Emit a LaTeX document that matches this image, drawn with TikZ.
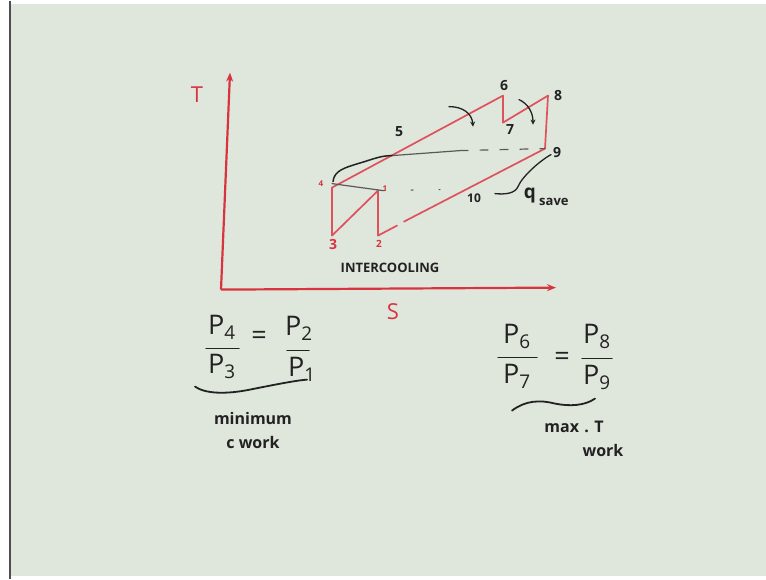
\documentclass[tikz,border=0pt]{standalone}
\usepackage{fontspec}
\setmainfont{Open Sans}
\usetikzlibrary{arrows.meta}
\definecolor{board}{HTML}{DFE6DC}
\definecolor{marker}{HTML}{D8343F}
\definecolor{pen}{HTML}{222222}
\begin{document}
\begin{tikzpicture}[x=1pt,y=-1pt,
  cyc/.style={draw=marker!85, line width=1.7pt, line join=round, line cap=round},
  axis/.style={draw=marker, line width=2.2pt, -{Stealth[length=9pt,width=7pt]}},
  ink/.style={draw=pen, line width=1.5pt, line cap=round},
  faint/.style={draw=pen!75, line width=1.2pt, line cap=round},
  axlbl/.style={text=marker, font=\fontsize{22}{22}\selectfont, inner sep=0pt},
  redlbl/.style={text=marker, font=\fontsize{14}{14}\selectfont\bfseries, inner sep=0pt},
  blklbl/.style={text=pen, font=\fontsize{14}{14}\selectfont\bfseries, inner sep=0pt},
  eqlbl/.style={text=pen, font=\fontsize{27}{27}\selectfont, inner sep=0pt},
  note/.style={text=pen, font=\fontsize{16}{16}\selectfont\bfseries, inner sep=0pt},
  ]
% board
\fill[white] (0,0) rectangle (766,578);
\fill[board] (10,3) rectangle (766,575);
\draw[pen!80, line width=1.2pt] (10,0) -- (10,578);
\useasboundingbox (0,0) rectangle (766,578);

% axes
\coordinate (O) at (221,289);
\coordinate (Ttop) at (230,72);
\coordinate (Send) at (556,287);
\draw[axis] (O) -- (Ttop);
\draw[axis] (O) -- (Send);
\node[axlbl] (Tl) at (197,94) {T};
\node[axlbl] (Sl) at (393,311) {S};

% cycle points
\coordinate (p3) at (332,235);
\coordinate (p4) at (332,187);
\coordinate (p1) at (378,190);
\coordinate (p2) at (378,235);
\coordinate (gA) at (397,225);
\coordinate (gB) at (404,221);
\coordinate (p9) at (545,148);
\coordinate (p8) at (548,95);
\coordinate (p7) at (503,122);
\coordinate (p6) at (503,95);
\coordinate (p5) at (392,155);

\draw[cyc] (p4) -- (p3) -- (p1) -- (p2) -- (gA);
\draw[cyc] (gB) -- (p9) -- (p8) -- (p7) -- (p6) -- (p4);

% dashed horizontals
\coordinate (h1) at (460,150);
\draw[faint] (p5) -- (h1);
\draw[faint, dash pattern=on 8pt off 12pt] (h1) -- (p9);
\coordinate (l1) at (383,190);
\coordinate (l2) at (440,189);
\draw[faint] ([yshift=4pt]p4) -- (l1);
\draw[faint, dash pattern=on 2pt off 26pt] (l1) -- (l2);

% wavy brace 4-5
\coordinate (w0) at (333,181);
\draw[ink] (w0) .. controls (334,170) and (345,167) .. (358,163)
  .. controls (372,159) and (380,155) .. (p5);

% curved arrows
\coordinate (a1) at (449,106);
\coordinate (a2) at (473,126);
\draw[ink, line width=1.3pt, -{Stealth[length=5pt,width=5pt]}] (a1) .. controls (463,106) and (472,113) .. (a2);
\coordinate (b1) at (519,99);
\coordinate (b2) at (533,124);
\draw[ink, line width=1.3pt, -{Stealth[length=5pt,width=5pt]}] (b1) .. controls (528,103) and (533,112) .. (b2);

% q_save pointer
\coordinate (q0) at (495,193);
\coordinate (q1) at (551,154);
\draw[ink, line width=1.3pt] (q0) .. controls (505,194) and (515,193) .. (518,186)
  .. controls (522,176) and (540,160) .. (q1);

% point labels
\node[redlbl] (L3) at (333,244) {3};
\node[redlbl, font=\fontsize{8}{8}\selectfont\bfseries] (L4) at (321,183) {4};
\node[redlbl, font=\fontsize{8}{8}\selectfont\bfseries] (L1) at (385,188) {1};
\node[redlbl, font=\fontsize{10}{10}\selectfont\bfseries] (L2) at (379,243) {2};
\node[blklbl] (L5) at (399,131) {5};
\node[blklbl] (L6) at (504,85) {6};
\node[blklbl] (L7) at (510,129) {7};
\node[blklbl] (L8) at (558,95) {8};
\node[blklbl] (L9) at (557,152) {9};
\node[blklbl, font=\fontsize{12}{12}\selectfont\bfseries] (L10) at (474,198) {10};
\node[text=pen, font=\fontsize{19}{19}\selectfont\bfseries, inner sep=0pt] (qs) at (530,195) {q};
\node[text=pen, font=\fontsize{13}{13}\selectfont\bfseries, inner sep=0pt, anchor=west] (sv) at (539,201) {save};
\node[note, font=\fontsize{13}{13}\selectfont\bfseries] (ic) at (390,267) {INTERCOOLING};

% left equation
\node[eqlbl] (n1) at (222,327) {P\textsubscript{4}};
\coordinate (f1a) at (206,348);
\coordinate (f1b) at (239,348);
\draw[ink] (f1a) -- (f1b);
\node[eqlbl] (d1) at (222,366) {P\textsubscript{3}};
\node[eqlbl] (e1) at (259,337) {=};
\node[eqlbl] (n2) at (299,328) {P\textsubscript{2}};
\coordinate (f2a) at (287,350);
\coordinate (f2b) at (309,350);
\draw[ink] (f2a) -- (f2b);
\node[eqlbl] (d2) at (302,369) {P\textsubscript{1}};
\coordinate (u1) at (195,386);
\coordinate (u2) at (307,379);
\draw[ink, line width=1.8pt] (u1) .. controls (205,393) and (225,394) .. (250,389)
  .. controls (275,384) and (295,380) .. (u2);
\node[note] (m1) at (253,418) {minimum};
\node[note] (m2) at (253,442) {c work};

% right equation
\node[eqlbl] (n3) at (517,336) {P\textsubscript{6}};
\coordinate (f3a) at (498,357);
\coordinate (f3b) at (537,357);
\draw[ink] (f3a) -- (f3b);
\node[eqlbl] (d3) at (517,376) {P\textsubscript{7}};
\node[eqlbl] (e2) at (562,358) {=};
\node[eqlbl] (n4) at (597,336) {P\textsubscript{8}};
\coordinate (f4a) at (582,358);
\coordinate (f4b) at (612,358);
\draw[ink] (f4a) -- (f4b);
\node[eqlbl] (d4) at (597,377) {P\textsubscript{9}};
\coordinate (u3) at (512,410);
\coordinate (u4) at (595,398);
\draw[ink, line width=1.8pt] (u3) .. controls (525,400) and (540,399) .. (555,403)
  .. controls (570,406) and (585,405) .. (u4);
\node[note] (m3) at (574,426) {max\,\,.\,\,T};
\node[note] (m4) at (603,450) {work};
\end{tikzpicture}
\end{document}
